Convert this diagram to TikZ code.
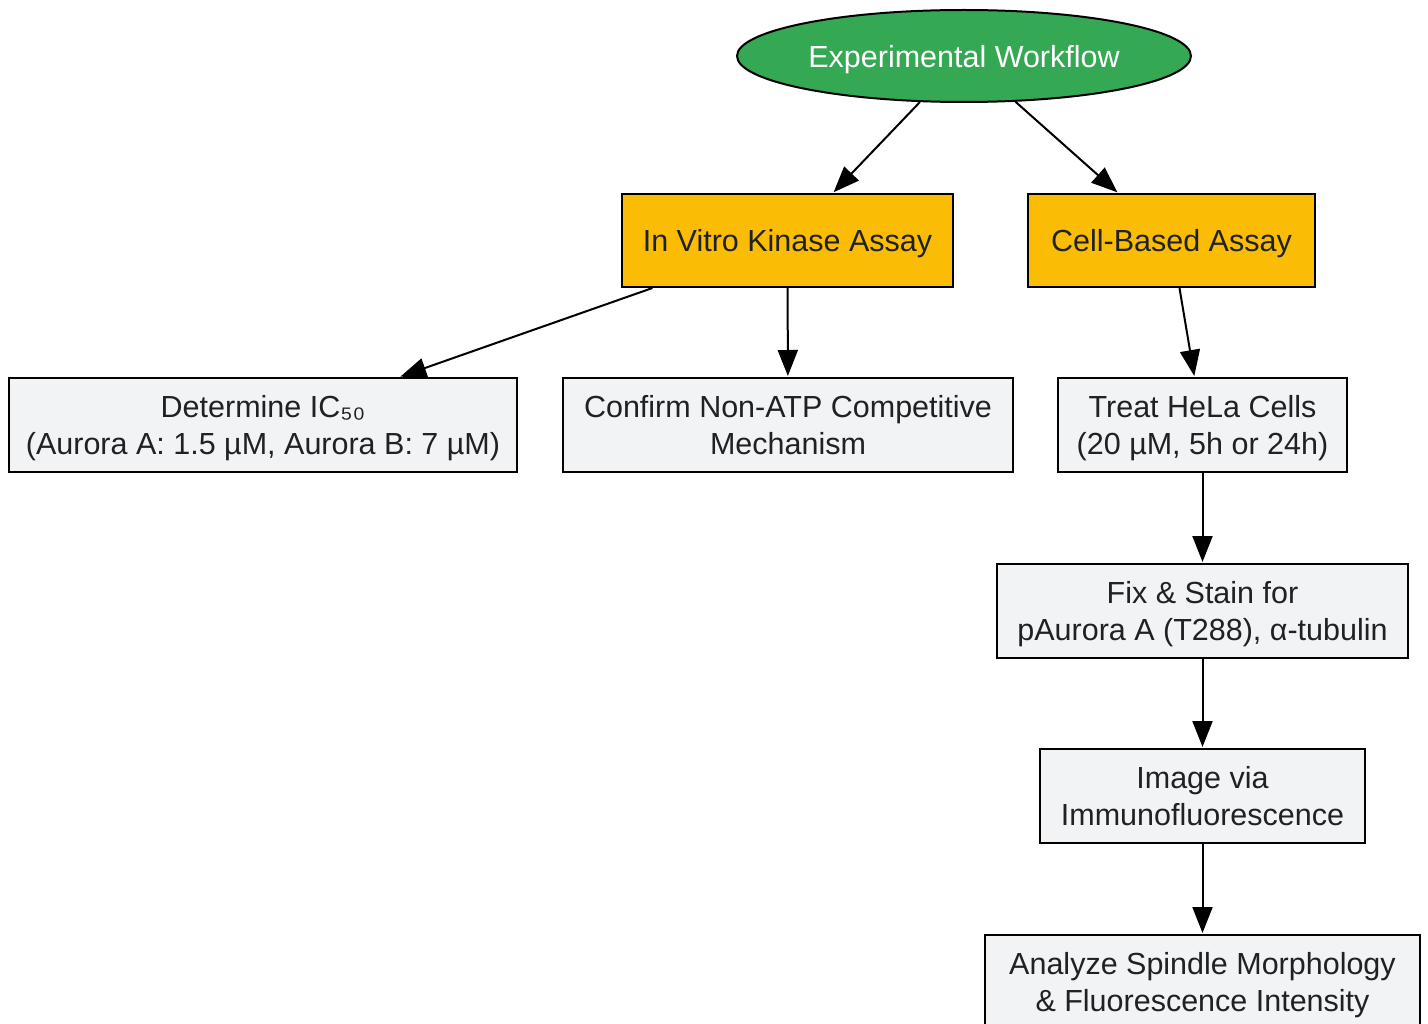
\documentclass[tikz,border=0pt]{standalone}
\usepackage{fontspec}
\setmainfont{Liberation Sans}
\usetikzlibrary{shapes.geometric,arrows.meta}
\definecolor{gGreen}{HTML}{34A853}
\definecolor{gYellow}{HTML}{FBBC05}
\definecolor{gGray}{HTML}{F1F3F4}
\definecolor{gText}{HTML}{202124}
\newcommand{\mlstrut}{\rule[-7pt]{0pt}{35pt}}
\newcommand{\slstrut}{\rule[-7pt]{0pt}{37pt}}
\begin{document}
\begin{tikzpicture}[x=1pt,y=-1pt,
  every node/.style={font=\fontsize{30.5}{37}\selectfont, align=center, inner sep=0pt, line width=2pt, draw=black},
  boxy/.style={rectangle, fill=gYellow, text=gText},
  boxg/.style={rectangle, fill=gGray, text=gText},
  conn/.style={draw=black, line width=2pt, -{Triangle[length=26pt,width=20pt]}, shorten >=1pt}
]
\useasboundingbox (0,0) rectangle (1428,1024);
\fill[white] (0,0) rectangle (1428,1024);
\node[ellipse, fill=gGreen, text=white, minimum width=454pt, minimum height=92pt] (top) at (964,56) {\slstrut Experimental Workflow};
\node[boxy, minimum width=331pt, minimum height=93pt] (vitro) at (787.5,240.5) {\slstrut In Vitro Kinase Assay};
\node[boxy, minimum width=287pt, minimum height=93pt] (cell) at (1171.5,240.5) {\slstrut Cell-Based Assay};
\node[boxg, minimum width=508pt, minimum height=94pt] (ic) at (263,425) {\mlstrut Determine IC₅₀\\\mlstrut(Aurora A: 1.5 µM, Aurora B: 7 µM)};
\node[boxg, minimum width=450pt, minimum height=94pt] (atp) at (788,425) {\mlstrut Confirm Non-ATP Competitive\\\mlstrut Mechanism};
\node[boxg, minimum width=289pt, minimum height=94pt] (treat) at (1202.5,425) {\mlstrut Treat HeLa Cells\\\mlstrut(20 µM, 5h or 24h)};
\node[boxg, minimum width=411pt, minimum height=94pt] (fix) at (1202.5,611) {\mlstrut Fix \& Stain for\\\mlstrut pAurora A (T288), α-tubulin};
\node[boxg, minimum width=325pt, minimum height=94pt] (img) at (1202.5,796) {\mlstrut Image via\\\mlstrut Immunofluorescence};
\node[boxg, minimum width=435pt, minimum height=94pt] (ana) at (1202.5,982) {\mlstrut Analyze Spindle Morphology\\\mlstrut\& Fluorescence Intensity};
\draw[conn] (top) -- (vitro);
\draw[conn] (top) -- (cell);
\draw[conn] (vitro) -- (ic);
\draw[conn] (vitro) -- (atp);
\draw[conn] (cell) -- (treat);
\draw[conn] (treat) -- (fix);
\draw[conn] (fix) -- (img);
\draw[conn] (img) -- (ana);
\end{tikzpicture}
\end{document}
